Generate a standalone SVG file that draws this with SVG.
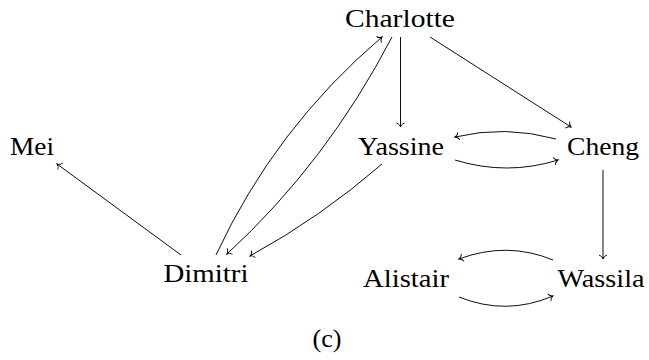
<svg xmlns="http://www.w3.org/2000/svg" width="649" height="360" viewBox="0 0 649 360">
  <style>
    .label { font-family: "Liberation Serif", "DejaVu Serif", serif; font-size: 26px; fill: #000; text-anchor: middle; }
    .edge { fill: none; stroke: #000; stroke-width: 0.95; marker-end: url(#to); }
  </style>
  <defs>
    <!-- curved "to"-style arrow tip -->
    <marker id="to" markerUnits="userSpaceOnUse" markerWidth="12" markerHeight="12" viewBox="-6 -6 12 12" refX="0" refY="0" orient="auto" overflow="visible">
      <path d="M-3.8,-3.6 C-3.1,-1.5 -1.3,-0.4 0,0 C-1.3,0.4 -3.1,1.5 -3.8,3.6" fill="none" stroke="#000" stroke-width="0.95" stroke-linecap="round"/>
    </marker>
  </defs>

  <!-- connectors -->
  <g id="edges">
    <path class="edge" d="M400.5,37 L400.5,127"/>
    <path class="edge" d="M430,37 L571,127"/>
    <path class="edge" d="M556,139 Q505,125 455,137"/>
    <path class="edge" d="M455,160 Q507,176 558,160"/>
    <path class="edge" d="M603,170 L603,259"/>
    <path class="edge" d="M553,260 Q507,241 459,259"/>
    <path class="edge" d="M459,297 Q506,316 553,296"/>
    <path class="edge" d="M181,255 L57,164"/>
    <path class="edge" d="M216,255 Q275,128 382,37"/>
    <path class="edge" d="M392,37 Q327,162 227,254"/>
    <path class="edge" d="M382,164 Q321,217 250,256"/>
  </g>

  <!-- nodes -->
  <g id="charlotte"><text class="label" x="400" y="27" textLength="110" lengthAdjust="spacingAndGlyphs">Charlotte</text></g>
  <g id="mei"><text class="label" x="32" y="155" textLength="44" lengthAdjust="spacingAndGlyphs">Mei</text></g>
  <g id="yassine"><text class="label" x="401" y="155" textLength="86" lengthAdjust="spacingAndGlyphs">Yassine</text></g>
  <g id="cheng"><text class="label" x="603" y="155" textLength="72" lengthAdjust="spacingAndGlyphs">Cheng</text></g>
  <g id="dimitri"><text class="label" x="206" y="282" textLength="85" lengthAdjust="spacingAndGlyphs">Dimitri</text></g>
  <g id="alistair"><text class="label" x="406" y="287" textLength="86" lengthAdjust="spacingAndGlyphs">Alistair</text></g>
  <g id="wassila"><text class="label" x="601" y="287" textLength="87" lengthAdjust="spacingAndGlyphs">Wassila</text></g>

  <!-- caption -->
  <text class="label" x="327" y="347" textLength="29" lengthAdjust="spacingAndGlyphs">(c)</text>
</svg>
